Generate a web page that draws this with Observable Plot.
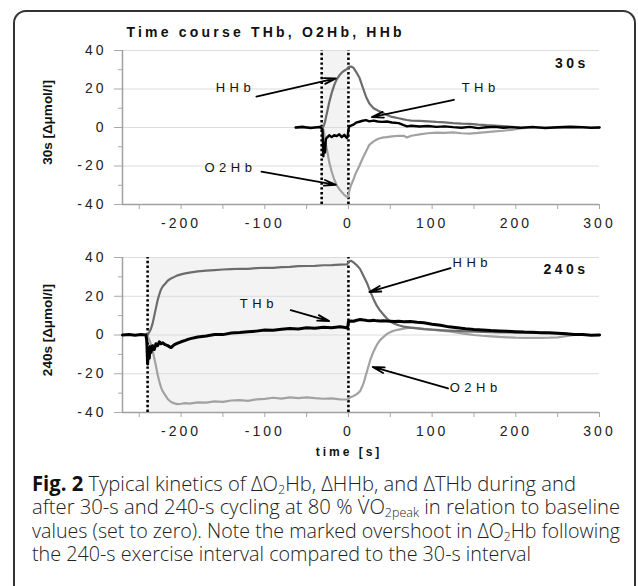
<!DOCTYPE html>
<html><head><meta charset="utf-8">
<script src="https://cdn.jsdelivr.net/npm/d3@7"></script>
<script src="https://cdn.jsdelivr.net/npm/@observablehq/plot@0.6"></script>
<style>
html,body{margin:0;padding:0;background:#fff}
body{width:638px;height:586px;overflow:hidden;position:relative;font-family:"Liberation Sans",Arial,sans-serif}
#frame{position:absolute;left:13px;top:10px;width:623px;height:576px;border:2px solid #333;border-bottom:none;border-radius:13px 13px 0 0;box-sizing:border-box;pointer-events:none}
#charts svg{display:block}
#caption{position:absolute;left:32px;top:472px;font-family:"Open Sans",sans-serif;font-size:20.5px;line-height:23.3px;color:#222;font-weight:300}
#caption div{white-space:nowrap;transform-origin:0 0;width:max-content}
#caption b{font-weight:700;color:#111}
#caption sub{font-size:0.62em;vertical-align:-0.25em;line-height:0}
</style>
</head><body>
<div id="charts"></div>
<div id="frame"></div>
<div id="caption">
<div><b>Fig. 2</b> Typical kinetics of ΔO<sub>2</sub>Hb, ΔHHb, and ΔTHb during and</div>
<div>after 30-s and 240-s cycling at 80 % V̇O<sub>2peak</sub> in relation to baseline</div>
<div>values (set to zero). Note the marked overshoot in ΔO<sub>2</sub>Hb following</div>
<div>the 240-s exercise interval compared to the 30-s interval</div>
</div>
<script>
// ---------- 30 s panel ----------
const t30 = [-63,-55,-45,-35,-33,-31,-30,-29,-28,-27,-25,-23,-20,-17,-14,-11,-8,-5,-2,-1,0,1,3,6,9,13,17,21,25,30,35,40,46,52,60,66,70,75,85,95,105,115,125,135,145,155,165,175,185,195,205,220,235,250,265,280,290,300];
const thb30 = [0,0.4,-0.3,0.3,0,-1,-15,-8,-13,-6,-5,-4,-5,-4,-4.5,-3.5,-5,-3.8,-5.5,-5,-1,0.5,1,1.5,2.5,3,3.5,3.8,3.2,3.6,3.1,2.9,3.1,2.6,2.3,1.2,0.6,0.9,0.5,0.8,0.3,0.6,0.2,-0.1,0.3,-0.3,0.1,0.3,-0.1,0.2,-0.2,0.3,-0.3,0.1,0.4,0.2,-0.2,0];
const hhb30 = [0,0,0,0,0,0,0.5,1.5,3,5,9,13,18,22,25,27,28.5,29.5,30.3,30.8,31.3,31.6,31.7,31,29,26,21,16,12.5,10,8.8,7.8,6.5,5.5,4.8,4.2,3.9,3.6,3.4,3.2,2.9,2.7,2.3,2,1.9,1.5,1.2,1,0.7,0.4,0.1,0,0,0,0,0,0,0];
const o2hb30 = [0,0,0,0,0,0,-1,-3,-6,-9,-13,-18,-23,-27,-30,-32,-33.5,-35,-36,-36.2,-35.5,-33,-30,-27,-23.5,-20,-16,-12.5,-9,-7.2,-6,-5.3,-5,-4.6,-4.3,-4.3,-5.2,-4.3,-3.6,-3,-2.7,-2.8,-2.5,-3,-3.2,-2.8,-2.4,-2,-1.7,-1.2,-0.5,0,0,0,0,0,0,0];
const shade30 = [-32, 0];
const dots30 = [-32, 0];
const tag30 = "30s";
const ylab30 = "30s [Δμmol/l]";
const annText30 = ["HHb", "O2Hb", "THb"];
const annX30 = [-135, -141, 158];
const annY30 = [20.8, -20.8, 20.8];
const arrX1_30 = [-110, -104, 126];
const arrY1_30 = [16.1, -22.9, 14.4];
const arrX2_30 = [-15, -15, 28];
const arrY2_30 = [25.5, -29.8, 5.4];

// ---------- 240 s panel ----------
const t240 = [-270,-262,-255,-248,-242,-241,-240,-239,-238,-237,-236,-234,-232,-230,-228,-226,-224,-222,-219,-216,-212,-208,-204,-200,-195,-190,-180,-170,-160,-150,-140,-130,-120,-110,-100,-90,-80,-70,-60,-50,-40,-30,-20,-10,-2,-1,0,1,3,6,10,14,18,22,26,30,34,38,42,46,50,55,60,66,74,82,90,100,110,120,130,140,150,160,170,180,190,200,210,220,230,240,250,260,270,280,290,300];
const thb240 = [0,0.2,-0.1,0.2,0,-3,-15,-7,-12,-6,-9,-5.5,-7.5,-4.5,-5.5,-3.5,-4.5,-4,-5,-5.5,-6.5,-5,-4.2,-3.5,-2.8,-2,-1,-0.5,0.3,0.2,1,1.3,1.7,2,2.6,2.4,3,3.3,3.1,3.7,3.5,4,3.8,4.2,3.8,3.4,7,7,7.2,7.1,7.6,8,7.8,7.5,7.4,7.6,7.3,7.2,7.4,7.2,7.1,7,7.1,6.8,7,6.6,6.3,5.6,5,4.2,3.7,3.2,2.8,2.6,2.3,2.1,1.9,1.7,1.5,1.4,1.2,1.1,0.9,0.6,0.3,0.2,-0.1,0];
const hhb240 = [0,0,0,0,0,0,0.3,0.8,1.5,2.3,3.2,6,10,14,18,21,23.5,25,26.5,28,29.2,30,30.8,31.3,31.8,32.2,32.8,33.2,33.5,33.8,34,34.2,34.1,34.5,34.7,34.6,35,35.2,35.5,35.6,35.7,36,36.1,36.3,36.4,36.8,37.5,38,38.3,37.5,36,34,30.5,27,22.5,18.5,15,12.5,10.5,8.5,7,5.8,5,4.3,3.8,3.4,3,2.8,2.5,2.3,2.1,1.9,1.7,1.6,1.5,1.4,1.3,1.2,1.2,1.1,1.1,1,0.9,0.6,0.2,0,0,0];
const o2hb240 = [0,0,0,0,0,0,-0.5,-1.5,-2.5,-3.5,-5,-8,-12,-16,-20.5,-24,-27,-29,-31,-33,-34.6,-35.3,-35.7,-35.5,-35.2,-35.4,-34.8,-34.9,-34.3,-34.5,-33.8,-33.6,-34,-33.2,-33,-32.4,-32.8,-32.2,-32.6,-32.2,-32.6,-32.9,-32.7,-33.2,-33.3,-33.3,-33,-32.5,-32,-31.5,-30.5,-29,-25,-19,-13,-8.5,-5,-2.5,-1,0.5,1.5,2.3,2.8,3.3,3.8,3.5,3.2,2.7,2.3,1.8,1.2,0.6,0,-0.4,-0.7,-1,-1.2,-1.4,-1.5,-1.5,-1.5,-1.4,-1.2,-0.6,0,0,0,0];
const shade240 = [-240, 0];
const dots240 = [-240, 0];
const tag240 = "240s";
const ylab240 = "240s [Δμmol/l]";
const annText240 = ["HHb", "O2Hb", "THb"];
const annX240 = [148, 152, -107];
const annY240 = [37.2, -27.4, 15.9];
const arrX1_240 = [122, 119, -69];
const arrY1_240 = [34.5, -27.6, 12.8];
const arrX2_240 = [25, 29, -23];
const arrY2_240 = [22.2, -16.5, 7.2];

// ---------- axes ----------
const xDomain = [-270, 300];
const yDomain = [-40, 40];
const xMajor = [-200, -100, 0, 100, 200, 300];
const xMinor = [-250, -150, -50, 50, 150, 250];
const yMajor = [-40, -20, 0, 20, 40];
const yMinor = [-30, -10, 10, 30];
const gridY = [-20, 0, 20, 40];
const title = "Time course THb, O2Hb, HHb";
const xTitle = "time [s]";

const FONT = '"Liberation Sans", Arial, sans-serif';
const fmt = d => String(d);

function panel(o) {
  const rows = o.t.map((t, i) => ({t, thb: o.thb[i], hhb: o.hhb[i], o2hb: o.o2hb[i]}));
  const ann = o.annText.map((s, i) => ({s, x: o.annX[i], y: o.annY[i]}));
  const arr = o.arrX1.map((x1, i) => ({x1, y1: o.arrY1[i], x2: o.arrX2[i], y2: o.arrY2[i]}));
  const marks = [
    Plot.rect([o.shade], {x1: d => d[0], x2: d => d[1], y1: yDomain[0], y2: yDomain[1], fill: "#f3f3f3"}),
    Plot.ruleY(gridY, {stroke: "#dcdcdc", strokeWidth: 1}),
    Plot.axisY({ticks: yMinor, tickSize: 4, tickFormat: () => "", stroke: "#a8a8a8"}),
    Plot.axisY({ticks: yMajor, tickSize: 8, tickPadding: 8, tickFormat: fmt, stroke: "#a8a8a8", fill: "#222", label: null}),
    Plot.axisX({ticks: xMinor, tickSize: 5, tickFormat: () => "", stroke: "#a8a8a8"}),
    Plot.axisX({ticks: xMajor, tickSize: 5, tickPadding: 9, tickFormat: fmt, stroke: "#a8a8a8", fill: "#222", label: null}),
    Plot.ruleX([xDomain[0]], {y1: yDomain[0], y2: yDomain[1], stroke: "#a0a0a0", strokeWidth: 1.5}),
    Plot.ruleY([yDomain[0]], {stroke: "#a0a0a0", strokeWidth: 1.5}),
    Plot.ruleX(o.dots, {y1: yDomain[0], y2: yDomain[1], stroke: "#000", strokeWidth: 2.6, strokeDasharray: "2.4,2.4"}),
    Plot.line(rows, {x: "t", y: "o2hb", stroke: "#a2a2a2", strokeWidth: 2.2}),
    Plot.line(rows, {x: "t", y: "hhb", stroke: "#6c6c6c", strokeWidth: 2.2}),
    Plot.line(rows, {x: "t", y: "thb", stroke: "#000", strokeWidth: o.thbWidth}),
    Plot.arrow(arr, {x1: "x1", y1: "y1", x2: "x2", y2: "y2", stroke: "#000", strokeWidth: 1.8, headLength: 10, headAngle: 28}),
    Plot.text(ann, {x: "x", y: "y", text: "s", fill: "#111", fontSize: 13}),
    Plot.text([o.tag], {x: o.tagX, y: o.tagY, text: d => d, fontWeight: "bold", fontSize: 14, fill: "#111"}),
    Plot.text([o.ylab], {frameAnchor: "left", textAnchor: "middle", lineAnchor: "middle", dx: -75, dy: -5, rotate: -90, text: d => d, fontWeight: "bold", fontSize: 13.5, fill: "#111"})
  ];
  if (o.title) marks.push(Plot.text([o.title], {frameAnchor: "top-left", dx: 4, dy: -18, textAnchor: "start", lineAnchor: "middle", text: d => d, fontWeight: "bold", fontSize: 14, fill: "#111"}));
  if (o.xTitle) marks.push(Plot.text([o.xTitle], {frameAnchor: "bottom", lineAnchor: "middle", dx: -12, dy: 40, text: d => d, fontWeight: "bold", fontSize: 12, fill: "#111"}));
  const svg = Plot.plot({
    width: 638, height: o.height,
    marginLeft: 122, marginRight: 39, marginTop: o.marginTop, marginBottom: o.marginBottom,
    x: {domain: xDomain}, y: {domain: yDomain},
    style: {fontFamily: FONT, fontSize: "14px", background: "transparent", overflow: "visible", letterSpacing: "3px"},
    marks
  });
  d3.select(svg).selectAll("text").each(function () {
    const s = this.textContent;
    let ls = null;
    if (s.includes("μmol")) ls = "0px";
    else if (o.annText.includes(s)) ls = "4.5px";
    else if (s === o.tag) ls = "3.5px";
    else if (s === o.title) ls = "3.2px";
    if (ls) d3.select(this).style("letter-spacing", ls);
  });
  return svg;
}

const charts = document.getElementById("charts");
charts.appendChild(panel({
  t: t30, thb: thb30, hhb: hhb30, o2hb: o2hb30, shade: shade30, dots: dots30,
  tag: tag30, tagX: 267, tagY: 33.2, ylab: ylab30, title,
  annText: annText30, annX: annX30, annY: annY30,
  arrX1: arrX1_30, arrY1: arrY1_30, arrX2: arrX2_30, arrY2: arrY2_30,
  height: 240, marginTop: 50, marginBottom: 36, thbWidth: 2.4
}));
charts.appendChild(panel({
  t: t240, thb: thb240, hhb: hhb240, o2hb: o2hb240, shade: shade240, dots: dots240,
  tag: tag240, tagX: 260, tagY: 34, ylab: ylab240, xTitle,
  annText: annText240, annX: annX240, annY: annY240,
  arrX1: arrX1_240, arrY1: arrY1_240, arrX2: arrX2_240, arrY2: arrY2_240,
  height: 222, marginTop: 17, marginBottom: 50, thbWidth: 3
}));

// fit caption lines to the reference line widths
const captionWidths = [544, 588, 588, 499];
document.querySelectorAll("#caption div").forEach((el, i) => {
  const w = el.getBoundingClientRect().width;
  el.style.transform = `scaleX(${captionWidths[i] / w})`;
});
</script>
</body></html>
